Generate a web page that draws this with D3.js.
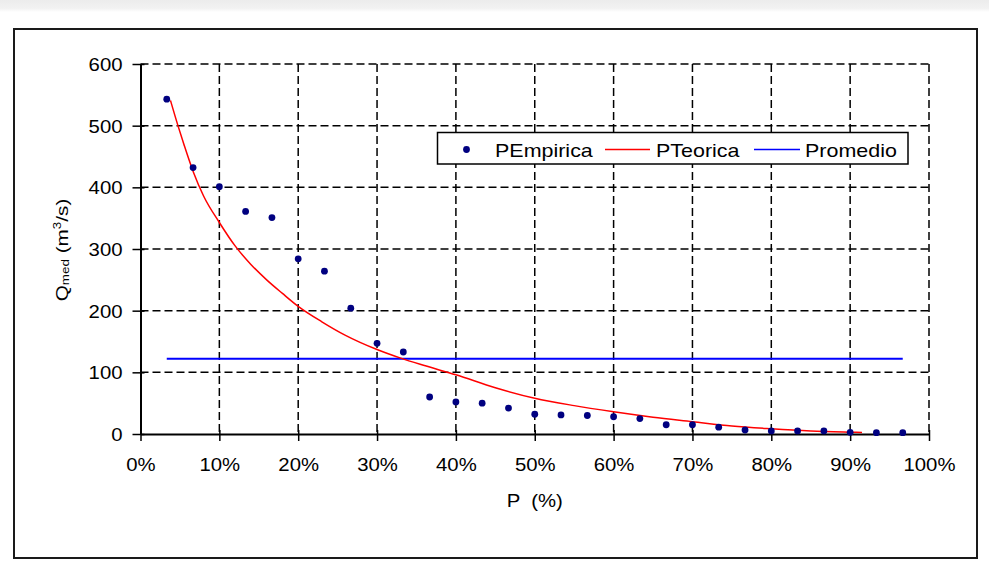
<!DOCTYPE html>
<html>
<head>
<meta charset="utf-8">
<script src="https://cdn.jsdelivr.net/npm/d3@7"></script>
<style>
  html, body { margin: 0; padding: 0; background: #fff; }
  svg { display: block; }
  text { font-family: "Liberation Sans", Arial, sans-serif; fill: #000; }
</style>
</head>
<body>
<svg id="chart" width="989" height="571"></svg>
<script>
// ---------------- data ----------------
const pEmpirica = [3.33, 6.67, 10, 13.33, 16.67, 20, 23.33, 26.67, 30, 33.33, 36.67, 40, 43.33, 46.67, 50,
                   53.33, 56.67, 60, 63.33, 66.67, 70, 73.33, 76.67, 80, 83.33, 86.67, 90, 93.33, 96.67];
const qEmpirica = [543, 432, 401, 361, 351, 284, 264, 204, 147, 133, 60, 52, 50, 42, 32,
                   31, 30, 28, 25, 15, 15, 11, 6.5, 5, 5, 5, 2.7, 2.2, 2.2];
const pTeorica = [3.8, 4.8, 5.5, 6.7, 8, 10, 12, 14, 16, 18, 20, 23, 26, 30, 33, 36, 40, 45, 50,
                  55, 60, 65, 70, 75, 80, 85, 90, 91.5];
const qTeorica = [541, 498, 470, 425, 386, 343, 305, 275, 250, 228, 207, 182, 160, 137, 123, 111, 96, 75, 58,
                  46, 36, 27, 20, 13, 8.5, 5, 3, 2.5];
const pPromedio = [3.33, 96.67];
const qPromedio = [122, 122];
const xTicks = [0, 10, 20, 30, 40, 50, 60, 70, 80, 90, 100];
const yTicks = [0, 100, 200, 300, 400, 500, 600];
const seriesNames = ["PEmpirica", "PTeorica", "Promedio"];
const xTitle = "P  (%)";

// ---------------- layout ----------------
const svg = d3.select("#chart");
const SX = 1.13; // horizontal text stretch
const x = d3.scaleLinear().domain([0, 100]).range([140.5, 929]);
const y = d3.scaleLinear().domain([0, 600]).range([434, 64]);

// top gray band
const defs = svg.append("defs");
const grad = defs.append("linearGradient").attr("id", "topband").attr("x1", 0).attr("y1", 0).attr("x2", 0).attr("y2", 1);
grad.append("stop").attr("offset", "0%").attr("stop-color", "#ececec");
grad.append("stop").attr("offset", "70%").attr("stop-color", "#f2f2f2");
grad.append("stop").attr("offset", "100%").attr("stop-color", "#ffffff");
svg.append("rect").attr("x", 0).attr("y", 0).attr("width", 989).attr("height", 12).attr("fill", "url(#topband)");

// outer frame
svg.append("rect").attr("x", 14).attr("y", 29).attr("width", 963).attr("height", 529)
  .attr("fill", "#fff").attr("stroke", "#1a1a1a").attr("stroke-width", 2);

// grid
const grid = svg.append("g");
grid.selectAll("line.h").data(yTicks.filter(d => d > 0)).join("line")
  .attr("x1", x(0)).attr("x2", x(100)).attr("y1", d => y(d)).attr("y2", d => y(d))
  .attr("stroke", "#000").attr("stroke-width", 1.5).attr("stroke-dasharray", "8,4");
grid.selectAll("line.v").data(xTicks.filter(d => d > 0)).join("line")
  .attr("x1", d => x(d)).attr("x2", d => x(d)).attr("y1", y(600)).attr("y2", y(0))
  .attr("stroke", "#000").attr("stroke-width", 1.5).attr("stroke-dasharray", "8,4");

// axes
const yAxis = svg.append("g").attr("transform", `translate(${x(0)},0)`)
  .call(d3.axisLeft(y).tickValues(yTicks).tickSizeInner(8).tickSizeOuter(0).tickPadding(10));
const xAxis = svg.append("g").attr("transform", `translate(0,${y(0)})`)
  .call(d3.axisBottom(x).tickValues(xTicks).tickFormat(d => d + "%").tickSizeInner(7).tickSizeOuter(0).tickPadding(10));
[yAxis, xAxis].forEach(a => {
  a.select(".domain").attr("stroke", "#000").attr("stroke-width", 2);
  a.selectAll(".tick line").attr("stroke", "#000").attr("stroke-width", 1.5);
  a.selectAll(".tick text").attr("font-size", 18).attr("font-family", "Liberation Sans, Arial, sans-serif").attr("fill", "#000");
});
yAxis.selectAll(".tick line").attr("x1", 4);
yAxis.selectAll(".tick text").attr("x", -18 / SX).attr("dy", "0.36em").attr("transform", `scale(${SX},1)`);
xAxis.selectAll(".tick line").attr("y1", -4);
xAxis.selectAll(".tick text").attr("dy", null).attr("y", 37.5).attr("transform", `scale(${SX},1)`);

// axis titles
svg.append("text").attr("transform", `translate(${x(50)},506.5) scale(${SX},1)`)
  .attr("text-anchor", "middle").attr("font-size", 18).style("white-space", "pre").text(xTitle);

const yt = svg.append("text").attr("transform", `translate(67.5,250) rotate(-90) scale(1.22,1)`)
  .attr("text-anchor", "middle").attr("font-size", 17);
yt.append("tspan").text("Q");
yt.append("tspan").attr("font-size", 11).attr("baseline-shift", "-20%").text("med");
yt.append("tspan").text(" (m");
yt.append("tspan").attr("font-size", 11).attr("baseline-shift", "super").text("3");
yt.append("tspan").text("/s)");

// series
const line = d3.line().x(d => x(d[0])).y(d => y(d[1]));
svg.append("path").datum(d3.zip(pPromedio, qPromedio))
  .attr("d", line).attr("fill", "none").attr("stroke", "#0000ff").attr("stroke-width", 2);
svg.append("path").datum(d3.zip(pTeorica, qTeorica))
  .attr("d", d3.line().x(d => x(d[0])).y(d => y(d[1])).curve(d3.curveMonotoneX))
  .attr("fill", "none").attr("stroke", "#ff0000").attr("stroke-width", 1.5);
svg.append("g").selectAll("circle").data(d3.zip(pEmpirica, qEmpirica)).join("circle")
  .attr("cx", d => x(d[0])).attr("cy", d => y(d[1])).attr("r", 3.4).attr("fill", "#000080");

// legend
const lg = svg.append("g");
lg.append("rect").attr("x", 437.5).attr("y", 132.5).attr("width", 470.5).attr("height", 31.5)
  .attr("fill", "#fff").attr("stroke", "#000").attr("stroke-width", 1.5);
const ly = 149.5;
lg.append("circle").attr("cx", 466.5).attr("cy", ly).attr("r", 3.4).attr("fill", "#000080");
lg.append("line").attr("x1", 605).attr("x2", 650).attr("y1", ly).attr("y2", ly).attr("stroke", "#ff0000").attr("stroke-width", 1.5);
lg.append("line").attr("x1", 754).attr("x2", 800).attr("y1", ly).attr("y2", ly).attr("stroke", "#0000ff").attr("stroke-width", 1.5);
const lx = [495, 656, 805];
seriesNames.forEach((n, i) => {
  lg.append("text").attr("transform", `translate(${lx[i]},${ly + 7}) scale(${SX},1)`)
    .attr("font-size", 19).text(n);
});
</script>
</body>
</html>
